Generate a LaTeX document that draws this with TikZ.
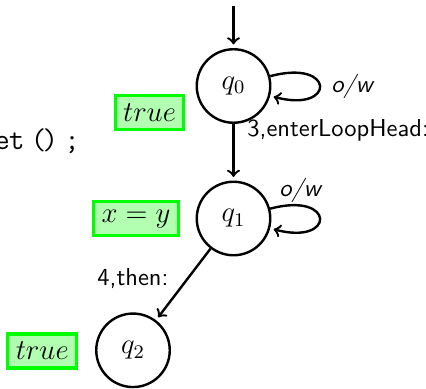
\documentclass[tikz,border=0pt]{standalone}
\begin{document}
\begin{tikzpicture}[x=0.4163pt,y=0.4163pt,
  state/.style={circle,draw,line width=1pt,minimum size=30.6pt,inner sep=0pt,font=\large},
  inv/.style={draw=green,fill=green!30,line width=1.3pt,inner xsep=3.3pt,inner ysep=1pt,minimum height=14.2pt,font=\large},
  lbl/.style={font=\fontsize{10.2}{12}\selectfont\sffamily,inner sep=0pt,anchor=base west},
  arr/.style={->,line width=1pt,shorten >=1.5pt}]
\useasboundingbox (0,0) rectangle (426,-388);
\node[state] (q0) at (233.5,-86) {$q_0$};
\node[state] (q1) at (233.5,-218.5) {$q_1$};
\node[state] (q2) at (133,-350.3) {$q_2$};
\node[inv] (i0) at (149.5,-112.7) {$true$};
\node[inv] (i1) at (136,-218.7) {$x=y$};
\node[inv] (i2) at (42.2,-351) {$true$};
\node[anchor=base west,inner sep=0pt,font=\fontsize{12.5}{14}\selectfont\ttfamily] (code) at (-6,-150) {e\kern-0.4pt t\kern2.7pt(\kern-1.6pt)\kern2.7pt;};
\coordinate (init) at (233.5,-6);
\draw[arr] (init) -- (q0);
\draw[arr] (q0.15) .. controls +(15:68) and +(-15:68) .. (q0.-15);
\draw[arr] (q0) -- (q1);
\draw[arr] (q1.15) .. controls +(15:68) and +(-15:68) .. (q1.-15);
\draw[arr] (q1) -- (q2);
\node[lbl] (l01) at (247,-136.5) {3,enterLoopHead:};
\node[lbl] (l00) at (331,-93) {\slshape o/w};
\node[lbl] (l11) at (279,-196.5) {\slshape o/w};
\node[lbl] (l12) at (97,-285) {4,then:};
\end{tikzpicture}
\end{document}
